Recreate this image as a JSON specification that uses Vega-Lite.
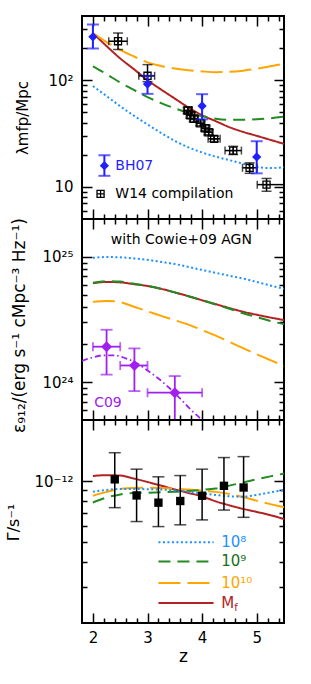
{
"$schema":"https://vega.github.io/schema/vega-lite/v6.json",
"autosize":{"type":"pad"},
"padding":{"left":4,"top":14,"right":5,"bottom":5},
"spacing":0,
"bounds":"flush",
"config":{"font":"DejaVu Sans","view":{"stroke":"black","strokeWidth":2},
 "axis":{"domain":false,"grid":false,"tickColor":"black","tickWidth":1.5,"labelFont":"DejaVu Sans","labelFontSize":15,"labelColor":"black","titleFont":"DejaVu Sans","titleFontWeight":"normal","titleColor":"black"}},
"datasets":{
"lam":[
{"z":2.0,"model":"Mf","v":277},{"z":2.25,"model":"Mf","v":209},{"z":2.5,"model":"Mf","v":160},{"z":2.75,"model":"Mf","v":127},{"z":3.0,"model":"Mf","v":100},{"z":3.25,"model":"Mf","v":81.7},{"z":3.5,"model":"Mf","v":67.3},{"z":3.75,"model":"Mf","v":55.5},{"z":4.0,"model":"Mf","v":47},{"z":4.25,"model":"Mf","v":41.3},{"z":4.5,"model":"Mf","v":36.3},{"z":4.75,"model":"Mf","v":32.8},{"z":5.0,"model":"Mf","v":30.1},{"z":5.25,"model":"Mf","v":27.6},{"z":5.5,"model":"Mf","v":25.3},
{"z":2.0,"model":"1e10","v":277},{"z":2.25,"model":"1e10","v":228},{"z":2.5,"model":"1e10","v":193},{"z":2.75,"model":"1e10","v":167},{"z":3.0,"model":"1e10","v":147},{"z":3.25,"model":"1e10","v":136},{"z":3.5,"model":"1e10","v":129},{"z":3.75,"model":"1e10","v":124},{"z":4.0,"model":"1e10","v":121},{"z":4.25,"model":"1e10","v":119},{"z":4.5,"model":"1e10","v":120},{"z":4.75,"model":"1e10","v":123},{"z":5.0,"model":"1e10","v":128},{"z":5.25,"model":"1e10","v":135},{"z":5.5,"model":"1e10","v":143},
{"z":2.0,"model":"1e9","v":135},{"z":2.25,"model":"1e9","v":114},{"z":2.5,"model":"1e9","v":95},{"z":2.75,"model":"1e9","v":81},{"z":3.0,"model":"1e9","v":69.5},{"z":3.25,"model":"1e9","v":61},{"z":3.5,"model":"1e9","v":54.5},{"z":3.75,"model":"1e9","v":49.5},{"z":4.0,"model":"1e9","v":46},{"z":4.25,"model":"1e9","v":43.5},{"z":4.5,"model":"1e9","v":42.5},{"z":4.75,"model":"1e9","v":42.5},{"z":5.0,"model":"1e9","v":43},{"z":5.25,"model":"1e9","v":44},{"z":5.5,"model":"1e9","v":45.5},
{"z":2.0,"model":"1e8","v":88},{"z":2.25,"model":"1e8","v":71},{"z":2.5,"model":"1e8","v":57},{"z":2.75,"model":"1e8","v":46.5},{"z":3.0,"model":"1e8","v":38.5},{"z":3.25,"model":"1e8","v":32},{"z":3.5,"model":"1e8","v":27},{"z":3.75,"model":"1e8","v":23.5},{"z":4.0,"model":"1e8","v":21},{"z":4.25,"model":"1e8","v":19.2},{"z":4.5,"model":"1e8","v":17.8},{"z":4.75,"model":"1e8","v":16.5},{"z":5.0,"model":"1e8","v":15.4},{"z":5.25,"model":"1e8","v":15.0},{"z":5.5,"model":"1e8","v":15.3}
],
"eps":[
{"z":2.0,"model":"1e8","v":9.8e24},{"z":2.25,"model":"1e8","v":9.95e24},{"z":2.5,"model":"1e8","v":9.9e24},{"z":2.75,"model":"1e8","v":9.7e24},{"z":3.0,"model":"1e8","v":9.45e24},{"z":3.25,"model":"1e8","v":9.1e24},{"z":3.5,"model":"1e8","v":8.75e24},{"z":3.75,"model":"1e8","v":8.3e24},{"z":4.0,"model":"1e8","v":7.85e24},{"z":4.25,"model":"1e8","v":7.45e24},{"z":4.5,"model":"1e8","v":7.05e24},{"z":4.75,"model":"1e8","v":6.7e24},{"z":5.0,"model":"1e8","v":6.3e24},{"z":5.25,"model":"1e8","v":5.9e24},{"z":5.5,"model":"1e8","v":5.55e24},
{"z":2.0,"model":"Mf","v":6.15e24},{"z":2.25,"model":"Mf","v":6.3e24},{"z":2.5,"model":"Mf","v":6.25e24},{"z":2.75,"model":"Mf","v":6.05e24},{"z":3.0,"model":"Mf","v":5.85e24},{"z":3.25,"model":"Mf","v":5.55e24},{"z":3.5,"model":"Mf","v":5.2e24},{"z":3.75,"model":"Mf","v":4.85e24},{"z":4.0,"model":"Mf","v":4.5e24},{"z":4.25,"model":"Mf","v":4.19e24},{"z":4.5,"model":"Mf","v":3.9e24},{"z":4.75,"model":"Mf","v":3.65e24},{"z":5.0,"model":"Mf","v":3.45e24},{"z":5.25,"model":"Mf","v":3.28e24},{"z":5.5,"model":"Mf","v":3.13e24},
{"z":2.0,"model":"1e9","v":6.2e24},{"z":2.25,"model":"1e9","v":6.4e24},{"z":2.5,"model":"1e9","v":6.35e24},{"z":2.75,"model":"1e9","v":6.1e24},{"z":3.0,"model":"1e9","v":5.85e24},{"z":3.25,"model":"1e9","v":5.55e24},{"z":3.5,"model":"1e9","v":5.2e24},{"z":3.75,"model":"1e9","v":4.85e24},{"z":4.0,"model":"1e9","v":4.5e24},{"z":4.25,"model":"1e9","v":4.17e24},{"z":4.5,"model":"1e9","v":3.85e24},{"z":4.75,"model":"1e9","v":3.55e24},{"z":5.0,"model":"1e9","v":3.3e24},{"z":5.25,"model":"1e9","v":3.08e24},{"z":5.5,"model":"1e9","v":2.9e24},
{"z":2.0,"model":"1e10","v":4.37e24},{"z":2.25,"model":"1e10","v":4.45e24},{"z":2.5,"model":"1e10","v":4.35e24},{"z":2.75,"model":"1e10","v":4.0e24},{"z":3.0,"model":"1e10","v":3.68e24},{"z":3.25,"model":"1e10","v":3.38e24},{"z":3.5,"model":"1e10","v":3.12e24},{"z":3.75,"model":"1e10","v":2.88e24},{"z":4.0,"model":"1e10","v":2.6e24},{"z":4.25,"model":"1e10","v":2.35e24},{"z":4.5,"model":"1e10","v":2.1e24},{"z":4.75,"model":"1e10","v":1.87e24},{"z":5.0,"model":"1e10","v":1.67e24},{"z":5.25,"model":"1e10","v":1.5e24},{"z":5.5,"model":"1e10","v":1.35e24}
],
"gam":[
{"z":2.0,"model":"Mf","v":1.06e-12},{"z":2.25,"model":"Mf","v":1.07e-12},{"z":2.5,"model":"Mf","v":1.065e-12},{"z":2.75,"model":"Mf","v":1.03e-12},{"z":3.0,"model":"Mf","v":9.9e-13},{"z":3.25,"model":"Mf","v":9.5e-13},{"z":3.5,"model":"Mf","v":9.1e-13},{"z":3.75,"model":"Mf","v":8.75e-13},{"z":4.0,"model":"Mf","v":8.4e-13},{"z":4.25,"model":"Mf","v":7.95e-13},{"z":4.5,"model":"Mf","v":7.6e-13},{"z":4.75,"model":"Mf","v":7.3e-13},{"z":5.0,"model":"Mf","v":7.05e-13},{"z":5.25,"model":"Mf","v":6.8e-13},{"z":5.5,"model":"Mf","v":6.5e-13},
{"z":2.0,"model":"1e10","v":8.47e-13},{"z":2.25,"model":"1e10","v":8.85e-13},{"z":2.5,"model":"1e10","v":9.15e-13},{"z":2.75,"model":"1e10","v":9.25e-13},{"z":3.0,"model":"1e10","v":9.27e-13},{"z":3.25,"model":"1e10","v":9.25e-13},{"z":3.5,"model":"1e10","v":9.18e-13},{"z":3.75,"model":"1e10","v":9.08e-13},{"z":4.0,"model":"1e10","v":8.97e-13},{"z":4.25,"model":"1e10","v":8.85e-13},{"z":4.5,"model":"1e10","v":8.65e-13},{"z":4.75,"model":"1e10","v":8.35e-13},{"z":5.0,"model":"1e10","v":8.0e-13},{"z":5.25,"model":"1e10","v":7.7e-13},{"z":5.5,"model":"1e10","v":7.43e-13},
{"z":2.0,"model":"1e9","v":7.85e-13},{"z":2.25,"model":"1e9","v":8.3e-13},{"z":2.5,"model":"1e9","v":8.6e-13},{"z":2.75,"model":"1e9","v":8.75e-13},{"z":3.0,"model":"1e9","v":8.77e-13},{"z":3.25,"model":"1e9","v":8.82e-13},{"z":3.5,"model":"1e9","v":8.86e-13},{"z":3.75,"model":"1e9","v":8.95e-13},{"z":4.0,"model":"1e9","v":9.05e-13},{"z":4.25,"model":"1e9","v":9.2e-13},{"z":4.5,"model":"1e9","v":9.5e-13},{"z":4.75,"model":"1e9","v":9.85e-13},{"z":5.0,"model":"1e9","v":1.02e-12},{"z":5.25,"model":"1e9","v":1.055e-12},{"z":5.5,"model":"1e9","v":1.09e-12},
{"z":2.0,"model":"1e8","v":8.87e-13},{"z":2.25,"model":"1e8","v":9.05e-13},{"z":2.5,"model":"1e8","v":9.14e-13},{"z":2.75,"model":"1e8","v":9.14e-13},{"z":3.0,"model":"1e8","v":9.12e-13},{"z":3.25,"model":"1e8","v":9.08e-13},{"z":3.5,"model":"1e8","v":9.0e-13},{"z":3.75,"model":"1e8","v":8.85e-13},{"z":4.0,"model":"1e8","v":8.7e-13},{"z":4.25,"model":"1e8","v":8.55e-13},{"z":4.5,"model":"1e8","v":8.42e-13},{"z":4.75,"model":"1e8","v":8.38e-13},{"z":5.0,"model":"1e8","v":8.55e-13},{"z":5.25,"model":"1e8","v":8.8e-13},{"z":5.5,"model":"1e8","v":9.05e-13}
],
"bh07":[{"z":2.0,"v":255,"lo":198,"hi":333},{"z":3.0,"v":92,"lo":74.5,"hi":110},{"z":4.0,"v":57.4,"lo":43,"hi":74},{"z":5.0,"v":19.1,"lo":13.4,"hi":26.8}],
"w14":[
{"z":2.46,"v":232,"lo":194,"hi":277,"zlo":2.29,"zhi":2.63},
{"z":3.0,"v":110,"lo":97,"hi":140,"zlo":2.84,"zhi":3.13},
{"z":3.74,"v":52,"lo":48.5,"hi":56,"zlo":3.66,"zhi":3.82},
{"z":3.79,"v":47,"lo":44,"hi":50,"zlo":3.71,"zhi":3.87},
{"z":3.85,"v":43.5,"lo":41,"hi":46,"zlo":3.77,"zhi":3.93},
{"z":3.97,"v":39.5,"lo":37.5,"hi":41.5,"zlo":3.89,"zhi":4.05},
{"z":4.06,"v":35.5,"lo":33.5,"hi":37.5,"zlo":3.98,"zhi":4.14},
{"z":4.12,"v":32.5,"lo":30.8,"hi":34.3,"zlo":4.04,"zhi":4.2},
{"z":4.22,"v":28.2,"lo":26.6,"hi":29.9,"zlo":4.11,"zhi":4.33},
{"z":4.57,"v":21.9,"lo":20.1,"hi":24,"zlo":4.42,"zhi":4.72},
{"z":4.87,"v":15.1,"lo":13.4,"hi":16.8,"zlo":4.74,"zhi":5.01},
{"z":5.18,"v":10.5,"lo":9.1,"hi":12.0,"zlo":5.01,"zhi":5.5}
],
"c09":[{"z":2.25,"v":1.92e24,"lo":1.15e24,"hi":2.62e24,"zlo":2.0,"zhi":2.5},{"z":2.76,"v":1.36e24,"lo":8.5e23,"hi":1.86e24,"zlo":2.5,"zhi":3.0},{"z":3.5,"v":8.25e23,"lo":4.5e23,"hi":1.12e24,"zlo":3.0,"zhi":4.0}],
"c09fit":[{"z":1.8,"v":1.48e24},{"z":2.0,"v":1.58e24},{"z":2.2,"v":1.64e24},{"z":2.4,"v":1.64e24},{"z":2.6,"v":1.55e24},{"z":2.8,"v":1.42e24},{"z":3.0,"v":1.24e24},{"z":3.2,"v":1.07e24},{"z":3.4,"v":9.0e23},{"z":3.6,"v":7.4e23},{"z":3.8,"v":6.0e23},{"z":4.0,"v":5.0e23}],
"bb13":[{"z":2.4,"v":1.02e-12,"lo":7.4e-13,"hi":1.38e-12},{"z":2.8,"v":8.5e-13,"lo":6.32e-13,"hi":1.145e-12},{"z":3.2,"v":7.83e-13,"lo":5.97e-13,"hi":1.05e-12},{"z":3.6,"v":7.98e-13,"lo":6.09e-13,"hi":1.065e-12},{"z":4.0,"v":8.47e-13,"lo":6.44e-13,"hi":1.145e-12},{"z":4.4,"v":9.48e-13,"lo":7.2e-13,"hi":1.306e-12},{"z":4.76,"v":9.3e-13,"lo":6.63e-13,"hi":1.32e-12}]
},
"vconcat":[
{"width":202,"height":203,
 "resolve":{"axis":{"x":"independent","y":"independent"}},
 "layer":[
  {"data":{"name":"lam"},"mark":{"type":"line","strokeWidth":2,"clip":true,"interpolate":"monotone"},
   "encoding":{
    "x":{"field":"z","type":"quantitative","scale":{"type":"linear","domain":[1.8,5.5],"nice":false,"zero":false},
      "axis":{"orient":"bottom","values":[2,2.2,2.4,2.6,2.8,3,3.2,3.4,3.6,3.8,4,4.2,4.4,4.6,4.8,5,5.2,5.4],"labels":false,"title":null,"tickSize":{"condition":{"test":"abs(datum.value-round(datum.value))<0.01","value":-10},"value":-5}}},
    "y":{"field":"v","type":"quantitative","scale":{"type":"log","domain":[5,400],"nice":false},
      "axis":{"orient":"left","values":[6,7,8,9,10,20,30,40,50,60,70,80,90,100,200,300],"labelExpr":"abs(log(datum.value)/LN10-2)<0.01 ? '10²' : abs(log(datum.value)/LN10-1)<0.01 ? '10' : ''","labelOverlap":false,"labelPadding":19,
      "tickSize":{"condition":{"test":"abs(log(datum.value)/LN10-round(log(datum.value)/LN10))<0.01","value":-10},"value":-5},
      "title":"λmfp/Mpc","titleFontSize":15,"titleX":-60,"titleY":101.5,"titleAngle":270,"titleAlign":"center","titleBaseline":"middle"}},
    "color":{"field":"model","type":"nominal","scale":{"domain":["1e8","1e9","1e10","Mf"],"range":["#1e90ff","#228b22","#ffa500","#b22222"]},"legend":null},
    "strokeDash":{"field":"model","type":"nominal","scale":{"domain":["1e8","1e9","1e10","Mf"],"range":[[2,2.5],[12,7],[22,7],[1,0]]},"legend":null}}},
  {"data":{"name":"lam"},"mark":{"type":"point","opacity":0},
   "encoding":{
    "x":{"field":"z","type":"quantitative","scale":{"type":"linear","domain":[1.8,5.5],"nice":false,"zero":false},
      "axis":{"orient":"top","values":[2,2.2,2.4,2.6,2.8,3,3.2,3.4,3.6,3.8,4,4.2,4.4,4.6,4.8,5,5.2,5.4],"labels":false,"title":null,"tickSize":{"condition":{"test":"abs(datum.value-round(datum.value))<0.01","value":-10},"value":-5}}},
    "y":{"field":"v","type":"quantitative","scale":{"type":"log","domain":[5,400],"nice":false},
      "axis":{"orient":"right","values":[6,7,8,9,10,20,30,40,50,60,70,80,90,100,200,300],"labels":false,"title":null,"tickSize":{"condition":{"test":"abs(log(datum.value)/LN10-round(log(datum.value)/LN10))<0.01","value":-10},"value":-5}}}}},
  {"data":{"name":"w14"},"mark":{"type":"rule","color":"black","strokeWidth":1.5,"clip":true},
   "encoding":{"x":{"field":"z","type":"quantitative","axis":null},"y":{"field":"lo","type":"quantitative","axis":null},"y2":{"field":"hi"}}},
  {"data":{"name":"w14"},"mark":{"type":"rule","color":"black","strokeWidth":1.5,"clip":true},
   "encoding":{"x":{"field":"zlo","type":"quantitative","axis":null},"x2":{"field":"zhi"},"y":{"field":"v","type":"quantitative","axis":null}}},
  {"data":{"name":"w14"},"transform":[{"fold":["lo","hi"],"as":["k","yc"]}],"mark":{"type":"tick","orient":"horizontal","size":10,"thickness":1.5,"color":"black","clip":true},
   "encoding":{"x":{"field":"z","type":"quantitative","axis":null},"y":{"field":"yc","type":"quantitative","axis":null}}},
  {"data":{"name":"w14"},"transform":[{"fold":["zlo","zhi"],"as":["k","xc"]}],"mark":{"type":"tick","orient":"vertical","size":8,"thickness":1.5,"color":"black","clip":true},
   "encoding":{"x":{"field":"xc","type":"quantitative","axis":null},"y":{"field":"v","type":"quantitative","axis":null}}},
  {"data":{"name":"w14"},"mark":{"type":"point","shape":"M-1,-1L1,-1L1,1L-1,1Z M-1,0L1,0 M0,-1L0,1","size":50,"filled":false,"color":"black","strokeWidth":1.3,"opacity":1},
   "encoding":{"x":{"field":"z","type":"quantitative","axis":null},"y":{"field":"v","type":"quantitative","axis":null}}},
  {"data":{"name":"bh07"},"mark":{"type":"rule","color":"#1f1fff","strokeWidth":2,"clip":true},
   "encoding":{"x":{"field":"z","type":"quantitative","axis":null},"y":{"field":"lo","type":"quantitative","axis":null},"y2":{"field":"hi"}}},
  {"data":{"name":"bh07"},"transform":[{"fold":["lo","hi"],"as":["k","yc"]}],"mark":{"type":"tick","orient":"horizontal","size":12,"thickness":2,"color":"#1f1fff","clip":true},
   "encoding":{"x":{"field":"z","type":"quantitative","axis":null},"y":{"field":"yc","type":"quantitative","axis":null}}},
  {"data":{"name":"bh07"},"mark":{"type":"point","shape":"diamond","size":85,"filled":true,"color":"#1f1fff","opacity":1},
   "encoding":{"x":{"field":"z","type":"quantitative","axis":null},"y":{"field":"v","type":"quantitative","axis":null}}},
  {"data":{"values":[{}]},"mark":{"type":"rule","color":"#1f1fff","strokeWidth":2},
   "encoding":{"x":{"datum":2.21,"type":"quantitative","axis":null},"y":{"datum":12.7,"type":"quantitative","axis":null},"y2":{"datum":19.8}}},
  {"data":{"values":[{}]},"mark":{"type":"tick","orient":"horizontal","size":12,"thickness":2,"color":"#1f1fff"},
   "encoding":{"x":{"datum":2.21,"type":"quantitative","axis":null},"y":{"datum":12.7,"type":"quantitative","axis":null}}},
  {"data":{"values":[{}]},"mark":{"type":"tick","orient":"horizontal","size":12,"thickness":2,"color":"#1f1fff"},
   "encoding":{"x":{"datum":2.21,"type":"quantitative","axis":null},"y":{"datum":19.8,"type":"quantitative","axis":null}}},
  {"data":{"values":[{}]},"mark":{"type":"point","shape":"diamond","size":85,"filled":true,"color":"#1f1fff","opacity":1},
   "encoding":{"x":{"datum":2.21,"type":"quantitative","axis":null},"y":{"datum":15.8,"type":"quantitative","axis":null}}},
  {"data":{"values":[{}]},"mark":{"type":"text","text":"BH07","align":"left","baseline":"middle","fontSize":14,"color":"#1f1fff"},
   "encoding":{"x":{"datum":2.41,"type":"quantitative","axis":null},"y":{"datum":15.8,"type":"quantitative","axis":null}}},
  {"data":{"values":[{}]},"mark":{"type":"point","shape":"M-1,-1L1,-1L1,1L-1,1Z M-1,0L1,0 M0,-1L0,1","size":50,"filled":false,"color":"black","strokeWidth":1.3,"opacity":1},
   "encoding":{"x":{"datum":2.14,"type":"quantitative","axis":null},"y":{"datum":8.6,"type":"quantitative","axis":null}}},
  {"data":{"values":[{}]},"mark":{"type":"text","text":"W14 compilation","align":"left","baseline":"middle","fontSize":14,"color":"black"},
   "encoding":{"x":{"datum":2.41,"type":"quantitative","axis":null},"y":{"datum":8.6,"type":"quantitative","axis":null}}}
 ]},
{"width":202,"height":201,
 "resolve":{"axis":{"x":"independent","y":"independent"}},
 "layer":[
  {"data":{"name":"eps"},"mark":{"type":"line","strokeWidth":2,"clip":true,"interpolate":"monotone"},
   "encoding":{
    "x":{"field":"z","type":"quantitative","scale":{"type":"linear","domain":[1.8,5.5],"nice":false,"zero":false},
      "axis":{"orient":"bottom","values":[2,2.2,2.4,2.6,2.8,3,3.2,3.4,3.6,3.8,4,4.2,4.4,4.6,4.8,5,5.2,5.4],"labels":false,"title":null,"tickSize":{"condition":{"test":"abs(datum.value-round(datum.value))<0.01","value":-10},"value":-5}}},
    "y":{"field":"v","type":"quantitative","scale":{"type":"log","domain":[5e23,2e25],"nice":false},
      "axis":{"orient":"left","values":[6e23,7e23,8e23,9e23,1e24,2e24,3e24,4e24,5e24,6e24,7e24,8e24,9e24,1e25],"labelExpr":"abs(log(datum.value)/LN10-25)<0.01 ? '10²⁵' : abs(log(datum.value)/LN10-24)<0.01 ? '10²⁴' : ''","labelOverlap":false,"labelPadding":19,
      "tickSize":{"condition":{"test":"abs(log(datum.value)/LN10-round(log(datum.value)/LN10))<0.01","value":-10},"value":-5},
      "title":"ε₉₁₂/(erg  s⁻¹  cMpc⁻³  Hz⁻¹)","titleFontSize":17,"titleX":-63,"titleY":106,"titleAngle":270,"titleAlign":"center","titleBaseline":"middle"}},
    "color":{"field":"model","type":"nominal","scale":{"domain":["1e8","1e9","1e10","Mf"],"range":["#1e90ff","#228b22","#ffa500","#b22222"]},"legend":null},
    "strokeDash":{"field":"model","type":"nominal","scale":{"domain":["1e8","1e9","1e10","Mf"],"range":[[2,2.5],[12,7],[22,7],[1,0]]},"legend":null}}},
  {"data":{"name":"eps"},"mark":{"type":"point","opacity":0},
   "encoding":{
    "x":{"field":"z","type":"quantitative","scale":{"type":"linear","domain":[1.8,5.5],"nice":false,"zero":false},
      "axis":{"orient":"top","values":[2,2.2,2.4,2.6,2.8,3,3.2,3.4,3.6,3.8,4,4.2,4.4,4.6,4.8,5,5.2,5.4],"labels":false,"title":null,"tickSize":{"condition":{"test":"abs(datum.value-round(datum.value))<0.01","value":-10},"value":-5}}},
    "y":{"field":"v","type":"quantitative","scale":{"type":"log","domain":[5e23,2e25],"nice":false},
      "axis":{"orient":"right","values":[6e23,7e23,8e23,9e23,1e24,2e24,3e24,4e24,5e24,6e24,7e24,8e24,9e24,1e25],"labels":false,"title":null,"tickSize":{"condition":{"test":"abs(log(datum.value)/LN10-round(log(datum.value)/LN10))<0.01","value":-10},"value":-5}}}}},
  {"data":{"name":"c09fit"},"mark":{"type":"line","strokeWidth":1.8,"color":"#a020f0","strokeDash":[6,3,1.5,3],"clip":true,"interpolate":"monotone"},
   "encoding":{"x":{"field":"z","type":"quantitative","axis":null},"y":{"field":"v","type":"quantitative","axis":null}}},
  {"data":{"name":"c09"},"mark":{"type":"rule","color":"#a020f0","strokeWidth":1.8,"clip":true},
   "encoding":{"x":{"field":"z","type":"quantitative","axis":null},"y":{"field":"lo","type":"quantitative","axis":null},"y2":{"field":"hi"}}},
  {"data":{"name":"c09"},"mark":{"type":"rule","color":"#a020f0","strokeWidth":1.8,"clip":true},
   "encoding":{"x":{"field":"zlo","type":"quantitative","axis":null},"x2":{"field":"zhi"},"y":{"field":"v","type":"quantitative","axis":null}}},
  {"data":{"name":"c09"},"transform":[{"fold":["lo","hi"],"as":["k","yc"]}],"mark":{"type":"tick","orient":"horizontal","size":12,"thickness":1.8,"color":"#a020f0","clip":true},
   "encoding":{"x":{"field":"z","type":"quantitative","axis":null},"y":{"field":"yc","type":"quantitative","axis":null}}},
  {"data":{"name":"c09"},"transform":[{"fold":["zlo","zhi"],"as":["k","xc"]}],"mark":{"type":"tick","orient":"vertical","size":9,"thickness":1.8,"color":"#a020f0","clip":true},
   "encoding":{"x":{"field":"xc","type":"quantitative","axis":null},"y":{"field":"v","type":"quantitative","axis":null}}},
  {"data":{"name":"c09"},"mark":{"type":"point","shape":"diamond","size":120,"filled":true,"color":"#a020f0","opacity":1},
   "encoding":{"x":{"field":"z","type":"quantitative","axis":null},"y":{"field":"v","type":"quantitative","axis":null}}},
  {"data":{"values":[{}]},"mark":{"type":"text","text":"with Cowie+09 AGN","align":"center","baseline":"middle","fontSize":14,"color":"black"},
   "encoding":{"x":{"datum":3.62,"type":"quantitative","axis":null},"y":{"datum":1.36e25,"type":"quantitative","axis":null}}},
  {"data":{"values":[{}]},"mark":{"type":"text","text":"C09","align":"center","baseline":"middle","fontSize":14,"color":"#a020f0"},
   "encoding":{"x":{"datum":2.275,"type":"quantitative","axis":null},"y":{"datum":6.8e23,"type":"quantitative","axis":null}}}
 ]},
{"width":202,"height":203,
 "resolve":{"axis":{"x":"independent","y":"independent"}},
 "layer":[
  {"data":{"name":"gam"},"mark":{"type":"line","strokeWidth":2,"clip":true,"interpolate":"monotone"},
   "encoding":{
    "x":{"field":"z","type":"quantitative","scale":{"type":"linear","domain":[1.8,5.5],"nice":false,"zero":false},
      "axis":{"orient":"bottom","values":[2,2.2,2.4,2.6,2.8,3,3.2,3.4,3.6,3.8,4,4.2,4.4,4.6,4.8,5,5.2,5.4],"labelExpr":"abs(datum.value-round(datum.value))<0.01 ? format(datum.value,'d') : ''","labelOverlap":false,"labelFlush":false,"labelPadding":17,"labelFontSize":15,
      "tickSize":{"condition":{"test":"abs(datum.value-round(datum.value))<0.01","value":-10},"value":-5},
      "title":"z","titleFontSize":17,"titlePadding":-2}},
    "y":{"field":"v","type":"quantitative","scale":{"type":"log","domain":[2e-13,2e-12],"nice":false},
      "axis":{"orient":"left","values":[3e-13,4e-13,5e-13,6e-13,7e-13,8e-13,9e-13,1e-12],"labelExpr":"abs(log(datum.value)/LN10+12)<0.01 ? '10⁻¹²' : ''","labelOverlap":false,"labelPadding":19,
      "tickSize":{"condition":{"test":"abs(log(datum.value)/LN10-round(log(datum.value)/LN10))<0.01","value":-10},"value":-5},
      "title":"Γ/s⁻¹","titleFontSize":16,"titleX":-69,"titleY":102,"titleAngle":270,"titleAlign":"center","titleBaseline":"middle"}},
    "color":{"field":"model","type":"nominal","scale":{"domain":["1e8","1e9","1e10","Mf"],"range":["#1e90ff","#228b22","#ffa500","#b22222"]},"legend":null},
    "strokeDash":{"field":"model","type":"nominal","scale":{"domain":["1e8","1e9","1e10","Mf"],"range":[[2,2.5],[12,7],[22,7],[1,0]]},"legend":null}}},
  {"data":{"name":"gam"},"mark":{"type":"point","opacity":0},
   "encoding":{
    "x":{"field":"z","type":"quantitative","scale":{"type":"linear","domain":[1.8,5.5],"nice":false,"zero":false},
      "axis":{"orient":"top","values":[2,2.2,2.4,2.6,2.8,3,3.2,3.4,3.6,3.8,4,4.2,4.4,4.6,4.8,5,5.2,5.4],"labels":false,"title":null,"tickSize":{"condition":{"test":"abs(datum.value-round(datum.value))<0.01","value":-10},"value":-5}}},
    "y":{"field":"v","type":"quantitative","scale":{"type":"log","domain":[2e-13,2e-12],"nice":false},
      "axis":{"orient":"right","values":[3e-13,4e-13,5e-13,6e-13,7e-13,8e-13,9e-13,1e-12],"labels":false,"title":null,"tickSize":{"condition":{"test":"abs(log(datum.value)/LN10-round(log(datum.value)/LN10))<0.01","value":-10},"value":-5}}}}},
  {"data":{"name":"bb13"},"mark":{"type":"rule","color":"black","strokeWidth":1.5,"clip":true},
   "encoding":{"x":{"field":"z","type":"quantitative","axis":null},"y":{"field":"lo","type":"quantitative","axis":null},"y2":{"field":"hi"}}},
  {"data":{"name":"bb13"},"transform":[{"fold":["lo","hi"],"as":["k","yc"]}],"mark":{"type":"tick","orient":"horizontal","size":12,"thickness":1.5,"color":"black","clip":true},
   "encoding":{"x":{"field":"z","type":"quantitative","axis":null},"y":{"field":"yc","type":"quantitative","axis":null}}},
  {"data":{"name":"bb13"},"mark":{"type":"point","shape":"square","size":70,"filled":true,"color":"black","opacity":1},
   "encoding":{"x":{"field":"z","type":"quantitative","axis":null},"y":{"field":"v","type":"quantitative","axis":null}}},
  {"data":{"values":[{}]},"mark":{"type":"rule","color":"#1e90ff","strokeWidth":2,"strokeDash":[2,2.5]},
   "encoding":{"x":{"datum":3.2,"type":"quantitative","axis":null},"x2":{"datum":4.21},"y":{"datum":5.0e-13,"type":"quantitative","axis":null}}},
  {"data":{"values":[{}]},"mark":{"type":"rule","color":"#228b22","strokeWidth":2,"strokeDash":[12,7]},
   "encoding":{"x":{"datum":3.2,"type":"quantitative","axis":null},"x2":{"datum":4.21},"y":{"datum":4.02e-13,"type":"quantitative","axis":null}}},
  {"data":{"values":[{}]},"mark":{"type":"rule","color":"#ffa500","strokeWidth":2,"strokeDash":[22,7]},
   "encoding":{"x":{"datum":3.2,"type":"quantitative","axis":null},"x2":{"datum":4.21},"y":{"datum":3.15e-13,"type":"quantitative","axis":null}}},
  {"data":{"values":[{}]},"mark":{"type":"rule","color":"#b22222","strokeWidth":2},
   "encoding":{"x":{"datum":3.2,"type":"quantitative","axis":null},"x2":{"datum":4.21},"y":{"datum":2.51e-13,"type":"quantitative","axis":null}}},
  {"data":{"values":[{}]},"mark":{"type":"text","text":"10⁸","align":"left","baseline":"middle","fontSize":15,"color":"#1e90ff"},
   "encoding":{"x":{"datum":4.35,"type":"quantitative","axis":null},"y":{"datum":5.0e-13,"type":"quantitative","axis":null}}},
  {"data":{"values":[{}]},"mark":{"type":"text","text":"10⁹","align":"left","baseline":"middle","fontSize":15,"color":"#1a6e1a"},
   "encoding":{"x":{"datum":4.35,"type":"quantitative","axis":null},"y":{"datum":4.02e-13,"type":"quantitative","axis":null}}},
  {"data":{"values":[{}]},"mark":{"type":"text","text":"10¹⁰","align":"left","baseline":"middle","fontSize":15,"color":"#ffa500"},
   "encoding":{"x":{"datum":4.35,"type":"quantitative","axis":null},"y":{"datum":3.15e-13,"type":"quantitative","axis":null}}},
  {"data":{"values":[{}]},"mark":{"type":"text","text":"M","align":"left","baseline":"middle","fontSize":15,"color":"#b22222"},
   "encoding":{"x":{"datum":4.35,"type":"quantitative","axis":null},"y":{"datum":2.51e-13,"type":"quantitative","axis":null}}},
  {"data":{"values":[{}]},"mark":{"type":"text","text":"f","align":"left","baseline":"middle","fontSize":10,"color":"#b22222"},
   "encoding":{"x":{"datum":4.59,"type":"quantitative","axis":null},"y":{"datum":2.38e-13,"type":"quantitative","axis":null}}}
 ]}
]
}
